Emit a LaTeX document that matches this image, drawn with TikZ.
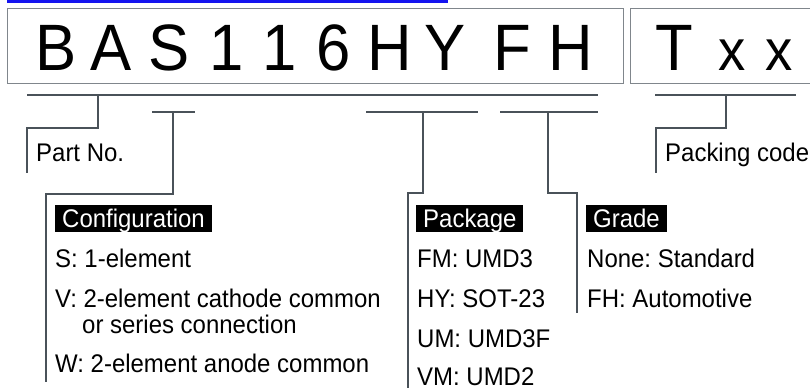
\documentclass[tikz,border=0pt]{standalone}
\usepackage{fontspec}
\setmainfont{Liberation Sans}[FakeStretch=0.94]
\usetikzlibrary{positioning}
\definecolor{boxgray}{HTML}{80868C}
\definecolor{leadgray}{HTML}{4A5259}
\definecolor{linkblue}{HTML}{1414F0}
\tikzset{
  partbox/.style={draw=boxgray,line width=1pt},
  partchar/.style={inner sep=0pt,anchor=base,font=\fontsize{65.6}{70}\selectfont},
  suffchar/.style={inner sep=0pt,anchor=base,font=\fontsize{58}{62}\selectfont},
  leader/.style={draw=leadgray,line width=2.8pt},
  entry/.style={inner sep=0pt,anchor=base west,font=\fontsize{25.5}{30}\selectfont},
  header/.style={fill=black,text=white,inner xsep=7pt,inner ysep=0pt,
                 text height=22pt,text depth=5pt,anchor=base west,
                 font=\fontsize{25.5}{30}\selectfont}
}
\frenchspacing
\begin{document}
\begin{tikzpicture}[x=1pt,y=-1pt]
  \useasboundingbox (0,0) rectangle (810,391);
  % link underline and code boxes
  \fill[linkblue] (7,0) rectangle (448,3);
  \draw[partbox] (7,8) rectangle (623,83);
  \draw[partbox] (812,8) -- (630,8) -- (630,83) -- (812,83);
  % part number characters
  \foreach \xx/\ch [count=\i] in {56/B,111/A,169/S,227/1,280/1,334/6,390/H,445/Y,512/F,571/H}
    \node[partchar] (ch\i) at (\xx,70) {\ch};
  \node[partchar] (sufT) at (674,70) {T};
  \node[suffchar] (sufx1) at (732,70) {x};
  \node[suffchar] (sufx2) at (779,70) {x};

  % leader coordinates
  \coordinate (mainL) at (27,95);
  \coordinate (mainR) at (598,95);
  \coordinate (pnTop) at (98,95);
  \coordinate (pnKnee) at (98,128);
  \coordinate (pnEnd) at (27,173);
  \coordinate (cfgL) at (152,112);
  \coordinate (cfgR) at (195,112);
  \coordinate (cfgTop) at (173,112);
  \coordinate (cfgKnee) at (173,194);
  \coordinate (cfgEnd) at (46,382);
  \coordinate (pkgL) at (366,112);
  \coordinate (pkgR) at (478,112);
  \coordinate (pkgTop) at (423,112);
  \coordinate (pkgKnee) at (423,193);
  \coordinate (pkgEnd) at (408,388);
  \coordinate (grdL) at (500,112);
  \coordinate (grdR) at (598,112);
  \coordinate (grdTop) at (548,112);
  \coordinate (grdKnee) at (548,193);
  \coordinate (grdEnd) at (577,313);
  \coordinate (pcL) at (655,95);
  \coordinate (pcR) at (796,95);
  \coordinate (pcTop) at (726,95);
  \coordinate (pcKnee) at (726,128);
  \coordinate (pcEnd) at (656,173);

  % leaders
  \draw[leader] (mainL) -- (mainR);
  \draw[leader] (pnTop) -- (pnKnee) -| (pnEnd);
  \draw[leader] (cfgL) -- (cfgR);
  \draw[leader] (cfgTop) -- (cfgKnee) -| (cfgEnd);
  \draw[leader] (pkgL) -- (pkgR);
  \draw[leader] (pkgTop) -- (pkgKnee) -| (pkgEnd);
  \draw[leader] (grdL) -- (grdR);
  \draw[leader] (grdTop) -- (grdKnee) -| (grdEnd);
  \draw[leader] (pcL) -- (pcR);
  \draw[leader] (pcTop) -- (pcKnee) -| (pcEnd);

  % Part No. / Packing code
  \node[entry] (partno) at (36,161) {Part No.};
  \node[entry] (packcode) at (665,161) {Packing code};

  % Configuration
  \node[header] (cfghd) at (55,227) {Configuration\hspace{4pt}};
  \node[entry] (cfgS) at (55,267) {S: 1-element};
  \node[entry] (cfgV) at (55,307) {V: 2-element cathode common};
  \node[entry] (cfgV2) at (82,333) {or series connection};
  \node[entry] (cfgW) at (55,372) {W: 2-element anode common};

  % Package
  \node[header] (pkghd) at (416,227) {Package\hspace{4pt}};
  \node[entry] (pkgFM) at (417,267) {FM: UMD3};
  \node[entry] (pkgHY) at (417,307) {HY: SOT-23};
  \node[entry] (pkgUM) at (417,347) {UM: UMD3F};
  \node[entry] (pkgVM) at (417,385) {VM: UMD2};

  % Grade
  \node[header] (grdhd) at (586,227) {Grade\hspace{4pt}};
  \node[entry] (grdNone) at (587,267) {None: Standard};
  \node[entry] (grdFH) at (587,307) {FH: Automotive};
\end{tikzpicture}
\end{document}
